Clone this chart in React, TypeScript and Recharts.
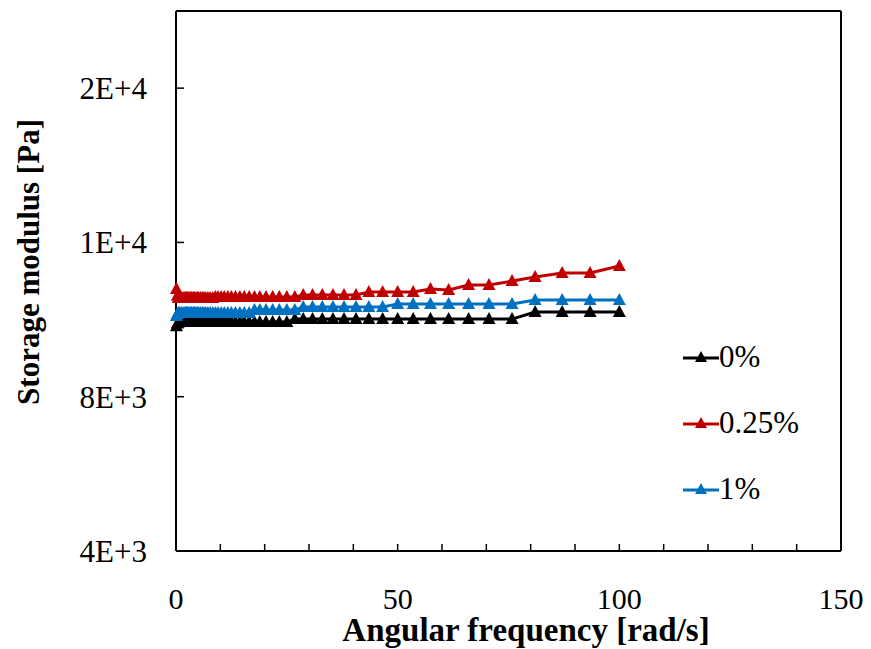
import React from 'react';
import { LineChart, Line, XAxis, YAxis, Legend } from 'recharts';

// angular frequency [rad/s]
const freq = [
  0.1, 0.3, 0.5, 0.8, 1.2, 1.6, 2.0, 2.2, 2.4, 2.5, 2.7, 2.9, 3.2, 3.4, 3.6, 3.9,
  4.2, 4.5, 4.8, 5.1, 5.5, 5.9, 6.3, 6.7, 7.2, 7.7, 8.3, 8.9, 9.5, 10.2, 10.9, 11.7,
  12.5, 13.4, 14.4, 15.4, 16.5, 17.7, 18.9, 20.3, 21.8, 23.3, 25.0, 26.8, 28.7, 30.8,
  33.0, 35.4, 37.9, 40.6, 43.5, 46.6, 50.0, 53.5, 57.4, 61.5, 66.0, 70.6, 75.8, 81.0,
  87.1, 93.4, 100,
];

// storage modulus [Pa]
const g0 = [
  9830, 9900, 9920, 9936, 9936, 9936, 9936, 9936, 9936, 9936, 9936, 9936, 9936, 9936, 9936, 9936,
  9936, 9936, 9936, 9936, 9936, 9936, 9936, 9936, 9936, 9936, 9936, 9936, 9936, 9936, 9936, 9936,
  9936, 9936, 9936, 9936, 9936, 9936, 9936, 9936, 9936, 9936, 9936, 10013, 10013, 10013,
  10013, 10013, 10013, 10013, 10013, 10013, 10013, 10013, 10013, 10013, 10013, 10013, 10013, 10195,
  10195, 10195, 10195,
];

const g025 = [
  10790, 10620, 10558, 10558, 10558, 10558, 10558, 10558, 10558, 10558, 10558, 10558, 10558, 10558, 10558, 10558,
  10558, 10558, 10558, 10558, 10558, 10558, 10558, 10558, 10558, 10558, 10558, 10584, 10584, 10584, 10584, 10584,
  10584, 10584, 10584, 10584, 10584, 10584, 10584, 10584, 10584, 10584, 10584, 10584, 10636, 10636,
  10636, 10636, 10636, 10636, 10713, 10713, 10713, 10713, 10791, 10765, 10895, 10895, 10998, 11102,
  11206, 11206, 11387,
];

const g1 = [
  10090, 10140, 10169, 10169, 10169, 10169, 10169, 10169, 10169, 10169, 10169, 10169, 10169, 10169, 10169, 10169,
  10169, 10169, 10169, 10169, 10169, 10169, 10169, 10169, 10169, 10169, 10169, 10169, 10169, 10169, 10169, 10169,
  10169, 10169, 10169, 10169, 10169, 10247, 10247, 10247, 10247, 10247, 10247, 10247, 10325, 10325,
  10325, 10325, 10325, 10325, 10325, 10325, 10402, 10402, 10402, 10402, 10402, 10402, 10402, 10506,
  10506, 10506, 10506,
];

const xTicks = [0, 10, 20, 30, 40, 50, 60, 70, 80, 90, 100, 110, 120, 130, 140, 150];
const yTicks = [4000, 8000, 12000, 16000];

const series = [
  { key: 'g0', name: '0%', color: '#000000' },
  { key: 'g025', name: '0.25%', color: '#C00000' },
  { key: 'g1', name: '1%', color: '#0070C0' },
];

const data = freq.map((f, i) => ({ f, g0: g0[i], g025: g025[i], g1: g1[i] }));

const FONT = '"Liberation Serif", "DejaVu Serif", serif';

const triangle = (color: string) => (props: any) => {
  const { cx, cy, index } = props;
  if (cx == null || cy == null) return <g key={index} />;
  return (
    <polygon
      key={index}
      points={`${cx},${cy - 7} ${cx - 6.5},${cy + 5} ${cx + 6.5},${cy + 5}`}
      fill={color}
    />
  );
};

const renderLegend = () => (
  <div style={{ fontFamily: FONT, fontSize: 31, color: '#000' }}>
    {series.map((s) => (
      <div key={s.key} style={{ display: 'flex', alignItems: 'center', height: 66 }}>
        <svg width={36} height={20} style={{ display: 'block' }}>
          <line x1={0} y1={11} x2={36} y2={11} stroke={s.color} strokeWidth={3} />
          <polygon points="18,4 12,15 24,15" fill={s.color} />
        </svg>
        <span style={{ lineHeight: '32px' }}>{s.name}</span>
      </div>
    ))}
  </div>
);

export default function App() {
  return (
    <div style={{ position: 'absolute', left: 0, top: 0, background: '#fff' }}>
      <LineChart
        width={871}
        height={649}
        data={data}
        margin={{ top: 10, right: 29, bottom: 0, left: 0 }}
      >
        <XAxis
          dataKey="f"
          type="number"
          domain={[0, 150]}
          ticks={xTicks}
          interval={0}
          tickFormatter={(v: number) => (v % 50 === 0 ? String(v) : '')}
          height={98}
          tickSize={-7}
          tickMargin={44}
          axisLine={{ stroke: '#000', strokeWidth: 2 }}
          tickLine={{ stroke: '#000', strokeWidth: 1.5 }}
          tick={{ fill: '#000', fontSize: 30, fontFamily: FONT }}
          label={{
            content: () => (
              <text x={526} y={630} textAnchor="middle" dominantBaseline="central"
                fontFamily={FONT} fontWeight="bold" fontSize={33} fill="#000">
                Angular frequency [rad/s]
              </text>
            ),
          }}
        />
        <XAxis
          xAxisId="top"
          dataKey="f"
          type="number"
          orientation="top"
          domain={[0, 150]}
          height={1}
          tick={false}
          tickLine={false}
          axisLine={{ stroke: '#000', strokeWidth: 2 }}
        />
        <YAxis
          type="number"
          domain={[4000, 18000]}
          ticks={yTicks}
          interval={0}
          tickFormatter={(v: number) => v.toExponential(0).toUpperCase()}
          width={176}
          tickSize={-8}
          tickMargin={37}
          axisLine={{ stroke: '#000', strokeWidth: 2 }}
          tickLine={{ stroke: '#000', strokeWidth: 1.5 }}
          tick={{ fill: '#000', fontSize: 31, fontFamily: FONT }}
          label={{
            content: () => (
              <text x={28} y={262} transform="rotate(-90 28 262)" textAnchor="middle"
                dominantBaseline="central" fontFamily={FONT} fontWeight="bold"
                fontSize={31} fill="#000">
                Storage modulus [Pa]
              </text>
            ),
          }}
        />
        <YAxis
          yAxisId="right"
          orientation="right"
          domain={[4000, 18000]}
          width={1}
          tick={false}
          tickLine={false}
          axisLine={{ stroke: '#000', strokeWidth: 2 }}
        />
        <Legend
          content={renderLegend}
          layout="vertical"
          verticalAlign="middle"
          align="center"
          wrapperStyle={{ left: 683, top: 324, width: 160 }}
        />
        {series.map((s) => (
          <Line
            key={s.key}
            dataKey={s.key}
            name={s.name}
            stroke={s.color}
            strokeWidth={3}
            dot={triangle(s.color)}
            activeDot={false}
            isAnimationActive={false}
          />
        ))}
      </LineChart>
    </div>
  );
}
